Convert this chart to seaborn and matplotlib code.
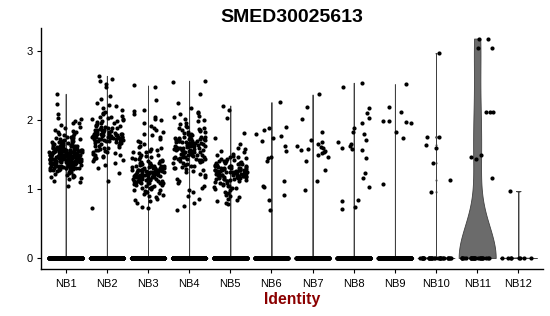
import numpy as np
import pandas as pd
import matplotlib
matplotlib.use("Agg")
import matplotlib.pyplot as plt
import seaborn as sns

# ---------------- data ----------------
clusters = ["NB1", "NB2", "NB3", "NB4", "NB5", "NB6", "NB7", "NB8", "NB9", "NB10", "NB11", "NB12"]

zero_counts = [600, 500, 500, 500, 500, 400, 400, 350, 300, 30, 25, 8]

NB1 = [2.38, 2.23, 2.09, 2.03, 2.01, 1.98, 1.96, 1.95, 1.93, 1.90, 1.88, 1.86, 1.84, 1.83, 1.82, 1.80, 1.79, 1.78, 1.77, 1.76,
       1.75, 1.74, 1.73, 1.72, 1.71, 1.70, 1.70, 1.69, 1.68, 1.67, 1.67, 1.66, 1.65, 1.65, 1.64, 1.64, 1.63, 1.63, 1.62, 1.62,
       1.61, 1.61, 1.60, 1.60, 1.60, 1.59, 1.59, 1.59, 1.58, 1.58, 1.58, 1.57, 1.57, 1.57, 1.56, 1.56, 1.56, 1.55, 1.55, 1.55,
       1.55, 1.54, 1.54, 1.54, 1.53, 1.53, 1.53, 1.53, 1.52, 1.52, 1.52, 1.52, 1.51, 1.51, 1.51, 1.51, 1.50, 1.50, 1.50, 1.50,
       1.49, 1.49, 1.49, 1.49, 1.48, 1.48, 1.48, 1.48, 1.47, 1.47, 1.47, 1.47, 1.46, 1.46, 1.46, 1.46, 1.45, 1.45, 1.45, 1.45,
       1.44, 1.44, 1.44, 1.44, 1.43, 1.43, 1.43, 1.43, 1.42, 1.42, 1.42, 1.42, 1.41, 1.41, 1.41, 1.41, 1.40, 1.40, 1.40, 1.40,
       1.39, 1.39, 1.39, 1.38, 1.38, 1.38, 1.37, 1.37, 1.37, 1.36, 1.36, 1.36, 1.35, 1.35, 1.35, 1.34, 1.34, 1.33, 1.33, 1.32,
       1.32, 1.31, 1.31, 1.30, 1.30, 1.29, 1.28, 1.27, 1.26, 1.25, 1.24, 1.23, 1.22, 1.21, 1.20, 1.19, 1.18, 1.17, 1.16, 1.14,
       1.12, 1.10, 1.05,
       1.58, 1.56, 1.55, 1.53, 1.52, 1.51, 1.50, 1.49, 1.48, 1.47, 1.46, 1.45, 1.44, 1.43, 1.42, 1.41, 1.40, 1.39, 1.38, 1.37,
       1.36, 1.35, 1.34, 1.33, 1.32, 1.31, 1.30, 1.29, 1.28, 1.27, 1.62, 1.64, 1.66, 1.68, 1.72, 1.74, 1.57, 1.54, 1.46, 1.44,
       1.43, 1.41, 1.39, 1.37, 1.35, 1.33, 1.31, 1.48, 1.50, 1.52]

NB2 = [2.64, 2.60, 2.57, 2.52, 2.48, 2.35, 2.30, 2.25, 2.22, 2.20, 2.17, 2.15, 2.12, 2.10, 2.08, 2.06, 2.05, 2.04, 2.03, 2.02,
       2.01, 2.00, 1.99, 1.98, 1.97, 1.96, 1.95, 1.94, 1.93, 1.92, 1.91, 1.90, 1.90, 1.89, 1.88, 1.88, 1.87, 1.86, 1.86, 1.85,
       1.85, 1.84, 1.84, 1.83, 1.83, 1.82, 1.82, 1.81, 1.81, 1.80, 1.80, 1.80, 1.79, 1.79, 1.79, 1.78, 1.78, 1.78, 1.77, 1.77,
       1.77, 1.76, 1.76, 1.76, 1.75, 1.75, 1.75, 1.74, 1.74, 1.74, 1.73, 1.73, 1.73, 1.72, 1.72, 1.71, 1.71, 1.70, 1.70, 1.69,
       1.69, 1.68, 1.68, 1.67, 1.66, 1.66, 1.65, 1.64, 1.63, 1.62, 1.61, 1.60, 1.59, 1.58, 1.57, 1.56, 1.55, 1.54, 1.53, 1.52,
       1.51, 1.50, 1.49, 1.48, 1.47, 1.46, 1.45, 1.44, 1.42, 1.40, 1.38, 1.35, 1.30, 1.23, 1.12, 0.73]

NB3 = [2.50, 2.48, 2.29, 2.15, 2.13, 2.08, 2.05, 2.02, 2.00, 1.96, 1.92, 1.89, 1.85, 1.82, 1.80, 1.78, 1.75, 1.72, 1.70, 1.68,
       1.65, 1.63, 1.61, 1.60, 1.58, 1.57, 1.55, 1.54, 1.53, 1.52, 1.50, 1.49, 1.48, 1.47, 1.46, 1.45, 1.44, 1.43, 1.42, 1.41,
       1.40, 1.40, 1.39, 1.38, 1.38, 1.37, 1.36, 1.36, 1.35, 1.35, 1.34, 1.34, 1.33, 1.33, 1.32, 1.32, 1.31, 1.31, 1.30, 1.30,
       1.30, 1.29, 1.29, 1.28, 1.28, 1.28, 1.27, 1.27, 1.27, 1.26, 1.26, 1.26, 1.25, 1.25, 1.25, 1.24, 1.24, 1.24, 1.23, 1.23,
       1.23, 1.22, 1.22, 1.22, 1.21, 1.21, 1.21, 1.20, 1.20, 1.20, 1.19, 1.19, 1.19, 1.18, 1.18, 1.18, 1.17, 1.17, 1.16, 1.16,
       1.15, 1.15, 1.14, 1.14, 1.13, 1.13, 1.12, 1.12, 1.11, 1.11, 1.10, 1.10, 1.09, 1.09, 1.08, 1.08, 1.07, 1.06, 1.06, 1.05,
       1.04, 1.03, 1.02, 1.01, 1.00, 0.99, 0.98, 0.97, 0.96, 0.95, 0.94, 0.93, 0.92, 0.90, 0.88, 0.86, 0.84, 0.83, 0.80, 0.74,
       0.72, 1.27, 1.24, 1.21, 1.18, 1.15, 1.12, 1.09, 1.31, 1.34]

NB4 = [2.57, 2.55, 2.38, 2.24, 2.17, 2.12, 2.10, 2.08, 2.06, 2.04, 2.02, 2.00, 1.98, 1.96, 1.94, 1.92, 1.90, 1.89, 1.88, 1.87,
       1.86, 1.85, 1.84, 1.83, 1.82, 1.81, 1.80, 1.79, 1.78, 1.77, 1.76, 1.76, 1.75, 1.75, 1.74, 1.74, 1.73, 1.73, 1.72, 1.72,
       1.71, 1.71, 1.70, 1.70, 1.69, 1.69, 1.68, 1.68, 1.67, 1.67, 1.66, 1.66, 1.65, 1.65, 1.64, 1.64, 1.63, 1.63, 1.62, 1.62,
       1.61, 1.61, 1.60, 1.60, 1.59, 1.59, 1.58, 1.58, 1.57, 1.57, 1.56, 1.56, 1.55, 1.55, 1.54, 1.54, 1.53, 1.53, 1.52, 1.52,
       1.51, 1.51, 1.50, 1.50, 1.49, 1.49, 1.48, 1.48, 1.47, 1.47, 1.46, 1.46, 1.45, 1.45, 1.44, 1.44, 1.43, 1.43, 1.42, 1.42,
       1.41, 1.40, 1.39, 1.38, 1.37, 1.36, 1.35, 1.34, 1.33, 1.32, 1.31, 1.30, 1.29, 1.28, 1.26, 1.24, 1.22, 1.20, 1.18, 1.15,
       1.12, 1.09, 1.05, 1.02, 0.98, 0.95, 0.90, 0.85, 0.80, 0.75, 0.70, 1.63, 1.58, 1.56, 1.53, 1.51, 1.68, 1.72]

NB5 = [2.21, 2.14, 2.03, 1.81, 1.74, 1.65, 1.60, 1.58, 1.55, 1.53, 1.51, 1.50, 1.48, 1.47, 1.46, 1.45, 1.44, 1.43, 1.42, 1.41,
       1.40, 1.40, 1.39, 1.39, 1.38, 1.38, 1.37, 1.37, 1.36, 1.36, 1.35, 1.35, 1.34, 1.34, 1.33, 1.33, 1.32, 1.32, 1.31, 1.31,
       1.30, 1.30, 1.30, 1.29, 1.29, 1.29, 1.28, 1.28, 1.28, 1.27, 1.27, 1.27, 1.26, 1.26, 1.26, 1.25, 1.25, 1.25, 1.24, 1.24,
       1.24, 1.23, 1.23, 1.23, 1.22, 1.22, 1.22, 1.21, 1.21, 1.21, 1.20, 1.20, 1.20, 1.19, 1.19, 1.19, 1.18, 1.18, 1.17, 1.17,
       1.16, 1.16, 1.15, 1.15, 1.14, 1.14, 1.13, 1.13, 1.12, 1.12, 1.11, 1.10, 1.09, 1.08, 1.07, 1.06, 1.05, 1.04, 1.03, 1.02,
       1.01, 1.00, 0.98, 0.96, 0.94, 0.92, 0.90, 0.88, 0.86, 0.84, 0.82, 0.80, 0.78, 1.27, 1.24, 1.22, 1.29, 1.32, 1.19, 1.16]

NB6 = [2.26, 1.90, 1.88, 1.86, 1.80, 1.77, 1.74, 1.69, 1.62, 1.55, 1.47, 1.45, 1.40, 1.11, 1.04, 1.03, 0.91, 0.84, 0.70]

NB7 = [2.37, 2.19, 2.02, 1.83, 1.71, 1.68, 1.65, 1.63, 1.61, 1.60, 1.58, 1.56, 1.55, 1.53, 1.52, 1.50, 1.46, 1.40, 1.28,
       1.11, 0.98]

NB8 = [2.54, 2.48, 2.17, 2.10, 2.03, 1.95, 1.88, 1.83, 1.80, 1.71, 1.68, 1.65, 1.62, 1.60, 1.58, 1.56, 1.45, 1.23, 1.16,
       1.03, 0.84, 0.82, 0.74, 0.71]

NB9 = [2.52, 2.19, 2.12, 1.99, 1.98, 1.97, 1.96, 1.83, 1.74, 1.07]

NB10 = [2.97, 1.76, 1.75, 1.64, 1.59, 1.38, 1.13, 0.96]

NB11 = [3.18, 3.17, 3.05, 3.05, 2.12, 2.11, 2.11, 1.49, 1.47, 1.43, 1.16]

NB12 = [0.97]

nonzero = [NB1, NB2, NB3, NB4, NB5, NB6, NB7, NB8, NB9, NB10, NB11, NB12]

# ---------------- build table ----------------
rows_c, rows_v = [], []
for c, nz, vals in zip(clusters, zero_counts, nonzero):
    rows_c += [c] * (nz + len(vals))
    rows_v += [0.0] * nz + list(vals)
df = pd.DataFrame({"Identity": rows_c, "expr": rows_v})

# ---------------- style ----------------
sns.set_theme(style="ticks")
plt.rcParams["font.family"] = ["Liberation Sans", "DejaVu Sans"]

fig = plt.figure(figsize=(5.5, 3.16), dpi=100)
ax = fig.add_axes([41 / 550, 1 - 269 / 316, (543 - 41) / 550, (269 - 28) / 316])

np.random.seed(3)

violin_kw = dict(x="Identity", y="expr", order=clusters, density_norm="width", cut=0,
                 inner=None, color="#6b6b6b", saturation=1, linecolor="#404040",
                 linewidth=0.6, width=0.9, ax=ax)
# clusters dominated by zeros -> spike at 0, thin line above
sns.violinplot(data=df[df["Identity"] != "NB11"], bw_adjust=0.02, gridsize=300, **violin_kw)
# NB11 with a regular bandwidth
sns.violinplot(data=df[df["Identity"] == "NB11"], bw_adjust=0.9, gridsize=200, **violin_kw)

sns.stripplot(data=df, x="Identity", y="expr", order=clusters, color="black",
              size=3.0, jitter=0.4, linewidth=0, ax=ax, zorder=5)

ax.set_xlim(-0.6, 11.6)
ax.set_ylim(-0.159, 3.333)
ax.set_yticks([0, 1, 2, 3])
ax.set_yticklabels(["0", "1", "2", "3"])
ax.set_xlabel("")
ax.set_ylabel("")
sns.despine(ax=ax)
for s in ["left", "bottom"]:
    ax.spines[s].set_linewidth(1.0)
    ax.spines[s].set_color("black")
ax.tick_params(axis="both", length=3, width=0.8, color="black", labelsize=8, labelcolor="black")
ax.tick_params(axis="x", pad=4)
ax.tick_params(axis="y", pad=3)

fig.text(292 / 550, 1 - 22 / 316, "SMED30025613", ha="center", va="baseline",
         fontsize=14, fontweight="bold", color="black")
fig.text(292 / 550, 1 - 304 / 316, "Identity", ha="center", va="baseline",
         fontsize=11.3, fontweight="bold", color="#8B0000")

fig.savefig("out.png", dpi=100)
